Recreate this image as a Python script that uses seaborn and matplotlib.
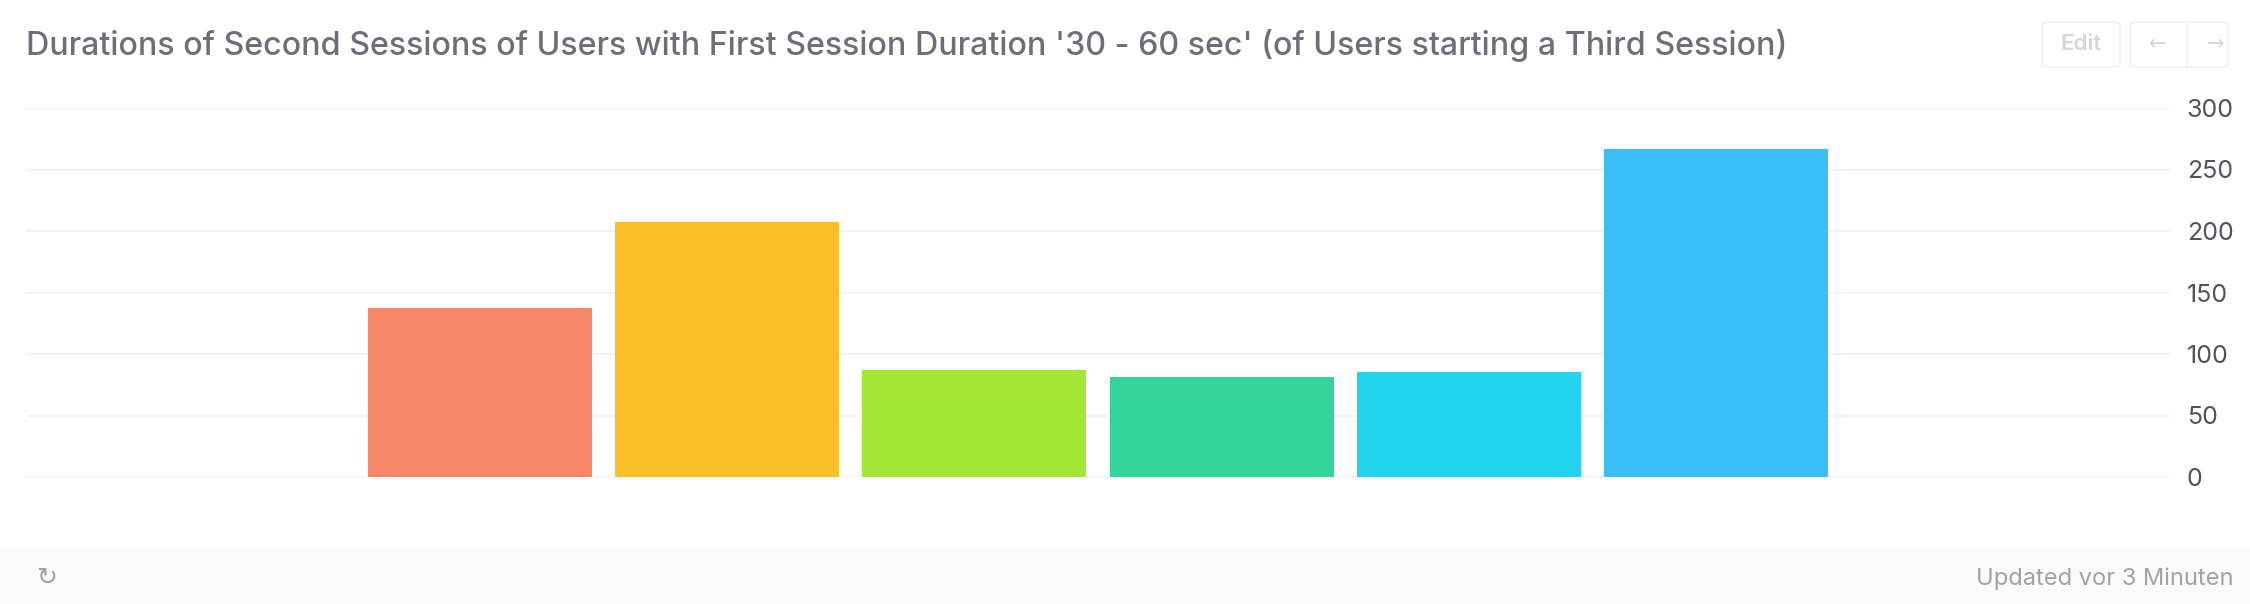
import matplotlib
matplotlib.use("Agg")
import matplotlib.pyplot as plt
from matplotlib.patches import Rectangle, FancyBboxPatch
import seaborn as sns
import pandas as pd

# ---- data ----
categories = ["0 - 10 sec", "10 - 30 sec", "30 - 60 sec", "1 - 3 min",
              "3 - 10 min", "10 - 30 min", "30 - 60 min", "> 60 min"]
values = [0, 137, 207, 87, 81, 85, 267, 0]
colors = ["#F87171", "#F8876A", "#FABF26", "#A3E635",
          "#34D399", "#22D3EE", "#3ABEF8", "#818CF8"]
y_ticks = [0, 50, 100, 150, 200, 250, 300]
title = "Durations of Second Sessions of Users with First Session Duration '30 - 60 sec' (of Users starting a Third Session)"
footer_text = "Updated vor 3 Minuten"

df = pd.DataFrame({"category": categories, "value": values})

sns.set_theme(style="white")
plt.rcParams["font.family"] = ["Inter", "DejaVu Sans"]

W, H = 2250, 604
fig = plt.figure(figsize=(W / 100, H / 100), dpi=100)
fig.patch.set_facecolor("white")

def fx(px):
    return px / W

def fy(py):
    return 1 - py / H

# footer band
fig.patches.append(Rectangle((0, 0), 1, (H - 548) / H, transform=fig.transFigure,
                             facecolor="#FAFAFA", edgecolor="none", zorder=0))

# axes area: x 26..2170, y 108 (300) .. 477 (0)
ax = fig.add_axes([fx(26), fy(477), fx(2170 - 26), (477 - 108) / H])
ax.set_facecolor("none")

sns.barplot(data=df, x="category", y="value", hue="category", palette=colors,
            legend=False, width=224 / 247, linewidth=0, saturation=1, ax=ax)

ax.set_xlim(-0.840, len(categories) - 1 + 0.840)
ax.set_ylim(0, 300)
ax.set_yticks(y_ticks)
ax.set_yticklabels([str(t) for t in y_ticks])
ax.yaxis.tick_right()
ax.tick_params(axis="y", length=0, pad=12, labelsize=18, labelcolor="#52525B")
ax.set_xticks([])
ax.set_xlabel("")
ax.set_ylabel("")
for s in ax.spines.values():
    s.set_visible(False)
ax.grid(axis="y", color="#F1F1F2", linewidth=1.5, zorder=0)
ax.set_axisbelow(True)
for lbl in ax.get_yticklabels():
    lbl.set_horizontalalignment("left")

# title
fig.text(fx(26), fy(45), title, fontsize=23.2, color="#6E6E7A", fontweight="medium",
         ha="left", va="center")

# Edit button
fig.patches.append(FancyBboxPatch((fx(2042), fy(67)), fx(2120 - 2042), (67 - 22) / H,
                                  boxstyle="round,pad=0,rounding_size=0.004",
                                  transform=fig.transFigure, facecolor="white",
                                  edgecolor="#F0F0F2", linewidth=1.2))
fig.text(fx(2081), fy(44), "Edit", fontsize=16, color="#D6D6DA", fontweight="semibold",
         ha="center", va="center")

# arrow buttons
fig.patches.append(FancyBboxPatch((fx(2130), fy(67)), fx(2228 - 2130), (67 - 22) / H,
                                  boxstyle="round,pad=0,rounding_size=0.004",
                                  transform=fig.transFigure, facecolor="white",
                                  edgecolor="#F0F0F2", linewidth=1.2))
fig.lines.append(plt.Line2D([fx(2187), fx(2187)], [fy(67), fy(22)], transform=fig.transFigure,
                            color="#F0F0F2", linewidth=1.2))
fig.text(fx(2158), fy(44), "←", fontsize=15, color="#D6D6DA", ha="center", va="center",
         family=["DejaVu Sans"])
fig.text(fx(2216), fy(44), "→", fontsize=15, color="#D6D6DA", ha="center", va="center",
         family=["DejaVu Sans"])

# footer
fig.text(fx(47), fy(578), "↻", fontsize=18, color="#A1A1AA", ha="center", va="center",
         family=["DejaVu Sans"])
fig.text(fx(2234), fy(579), footer_text, fontsize=17, color="#A1A1AA",
         ha="right", va="center")

fig.savefig("out.png", dpi=100, facecolor="white")
